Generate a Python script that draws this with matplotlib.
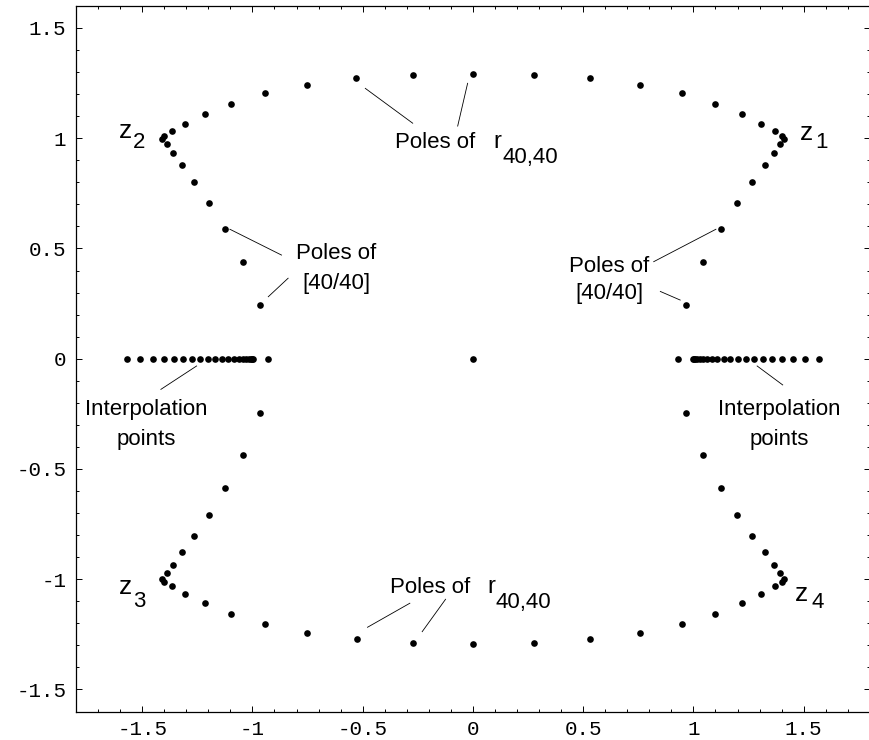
import matplotlib
matplotlib.use("Agg")
import matplotlib.pyplot as plt
from matplotlib.ticker import MultipleLocator

# Poles, one list per quadrant
poles_ul_x = [-0.272, -0.531, -0.753, -0.942, -1.096, -1.217, -1.305, -1.365, -1.401,
              -1.409, -1.389, -1.359, -1.318, -1.264, -1.199, -1.123, -1.042, -0.966]
poles_ul_y = [1.286, 1.271, 1.243, 1.203, 1.156, 1.108, 1.066, 1.032, 1.011,
              0.997, 0.973, 0.934, 0.877, 0.803, 0.708, 0.588, 0.437, 0.244]
poles_ur_x = [0.277, 0.532, 0.757, 0.948, 1.099, 1.220, 1.308, 1.371, 1.404,
              1.410, 1.392, 1.364, 1.323, 1.268, 1.199, 1.123, 1.042, 0.966]
poles_ur_y = [1.286, 1.271, 1.243, 1.203, 1.156, 1.108, 1.066, 1.032, 1.011,
              0.997, 0.973, 0.934, 0.877, 0.803, 0.708, 0.588, 0.437, 0.244]
poles_ll_x = [-0.272, -0.527, -0.753, -0.942, -1.096, -1.217, -1.305, -1.365, -1.401,
              -1.409, -1.389, -1.359, -1.318, -1.264, -1.199, -1.123, -1.042, -0.966]
poles_ll_y = [-1.288, -1.270, -1.243, -1.203, -1.156, -1.108, -1.066, -1.032, -1.011,
              -0.997, -0.973, -0.934, -0.877, -0.803, -0.708, -0.588, -0.437, -0.244]
poles_lr_x = [0.277, 0.532, 0.757, 0.948, 1.099, 1.220, 1.308, 1.371, 1.404,
              1.410, 1.392, 1.364, 1.323, 1.268, 1.199, 1.123, 1.042, 0.966]
poles_lr_y = [-1.288, -1.270, -1.243, -1.203, -1.156, -1.108, -1.066, -1.032, -1.011,
              -0.997, -0.973, -0.934, -0.877, -0.803, -0.708, -0.588, -0.437, -0.244]
poles_axis_x = [0.0, 0.0, 0.0, -0.930, 0.931]
poles_axis_y = [1.293, -1.292, 0.0, 0.0, 0.0]

# Interpolation points on the real axis
interp_left_x = [-1.570, -1.508, -1.452, -1.402, -1.357, -1.315, -1.275, -1.237, -1.201,
                 -1.168, -1.137, -1.109, -1.084, -1.062, -1.043, -1.028, -1.016, -1.007,
                 -1.002, -0.999]
interp_right_x = [1.570, 1.508, 1.452, 1.402, 1.357, 1.315, 1.275, 1.237, 1.201,
                  1.168, 1.137, 1.109, 1.084, 1.062, 1.043, 1.028, 1.016, 1.007,
                  1.002, 0.999]

SANS = "Liberation Sans"
MONO = "Liberation Mono"

fig = plt.figure(figsize=(8.69, 7.40), dpi=100)
ax = fig.add_axes([76 / 869, 28.5 / 740, 793.8 / 869, 705.6 / 740])

dot = dict(ls="none", marker="o", color="black", ms=4.8, mew=0)
for xs, ys in [(poles_ul_x, poles_ul_y), (poles_ur_x, poles_ur_y),
               (poles_ll_x, poles_ll_y), (poles_lr_x, poles_lr_y),
               (poles_axis_x, poles_axis_y)]:
    ax.plot(xs, ys, **dot)
ax.plot(interp_left_x, [0.0] * len(interp_left_x), **dot)
ax.plot(interp_right_x, [0.0] * len(interp_right_x), **dot)

ax.set_xlim(-1.8, 1.8)
ax.set_ylim(-1.6, 1.6)

# frame and ticks, Mathematica style
ax.spines["right"].set_visible(False)
for side in ["left", "bottom", "top"]:
    ax.spines[side].set_linewidth(0.9)
ax.xaxis.set_major_locator(MultipleLocator(0.5))
ax.xaxis.set_minor_locator(MultipleLocator(0.1))
ax.yaxis.set_major_locator(MultipleLocator(0.5))
ax.yaxis.set_minor_locator(MultipleLocator(0.1))
ax.tick_params(which="both", direction="in", top=True, right=True, width=0.7)
ax.tick_params(which="major", length=4.3)
ax.tick_params(which="minor", length=2.3)
ax.tick_params(axis="x", pad=6)
ax.tick_params(axis="y", pad=7)

def fmt(v):
    return "0" if abs(v) < 1e-9 else f"{v:g}"

ticks = [-1.5, -1, -0.5, 0, 0.5, 1, 1.5]
ax.set_xticks(ticks)
ax.set_xticklabels([fmt(v) for v in ticks])
ax.set_yticks(ticks)
ax.set_yticklabels([fmt(v) for v in ticks])
for lab in ax.get_xticklabels() + ax.get_yticklabels():
    lab.set_fontfamily(MONO)
    lab.set_fontsize(15)

txt = dict(family=SANS, fontsize=16, va="baseline")

# corner singularities
for (zx, zy, sx, sy, sub) in [(-1.576, 1.001, -1.515, 0.954, "2"),
                              (1.512, 0.992, 1.583, 0.955, "1"),
                              (-1.576, -1.067, -1.515, -1.125, "3"),
                              (1.490, -1.099, 1.562, -1.132, "4")]:
    ax.text(zx, zy, "z", ha="center", family=SANS, fontsize=19, va="baseline")
    ax.text(sx, sy, sub, ha="center", **txt)

# labels for r_40,40 poles
ax.text(-0.354, 0.955, "Poles of", ha="left", **txt)
ax.text(0.092, 0.955, "r", ha="left", family=SANS, fontsize=17, va="baseline")
ax.text(0.132, 0.888, "40,40", ha="left", **txt)
ax.text(-0.376, -1.064, "Poles of", ha="left", **txt)
ax.text(0.065, -1.064, "r", ha="left", family=SANS, fontsize=17, va="baseline")
ax.text(0.103, -1.132, "40,40", ha="left", **txt)

# labels for [40/40] poles
ax.text(-0.619, 0.452, "Poles of", ha="center", **txt)
ax.text(-0.619, 0.316, "[40/40]", ha="center", **txt)
ax.text(0.619, 0.395, "Poles of", ha="center", **txt)
ax.text(0.619, 0.269, "[40/40]", ha="center", **txt)

# interpolation point labels
ax.text(-1.483, -0.255, "Interpolation", ha="center", **txt)
ax.text(-1.483, -0.391, "points", ha="center", **txt)
ax.text(1.390, -0.255, "Interpolation", ha="center", **txt)
ax.text(1.390, -0.391, "points", ha="center", **txt)

leaders = [
    ((-0.488, -0.273), (1.226, 1.068)),
    ((-0.024, -0.069), (1.249, 1.055)),
    ((-0.286, -0.478), (-1.109, -1.218)),
    ((-0.124, -0.230), (-1.091, -1.238)),
    ((-1.102, -0.868), (0.587, 0.470)),
    ((-0.928, -0.838), (0.281, 0.365)),
    ((1.102, 0.820), (0.587, 0.440)),
    ((0.940, 0.850), (0.266, 0.305)),
    ((-1.415, -1.253), (-0.139, -0.033)),
    ((1.289, 1.405), (-0.033, -0.119)),
]
for lx, ly in leaders:
    ax.plot(lx, ly, color="black", lw=0.6)

fig.savefig("out.png", dpi=100)
